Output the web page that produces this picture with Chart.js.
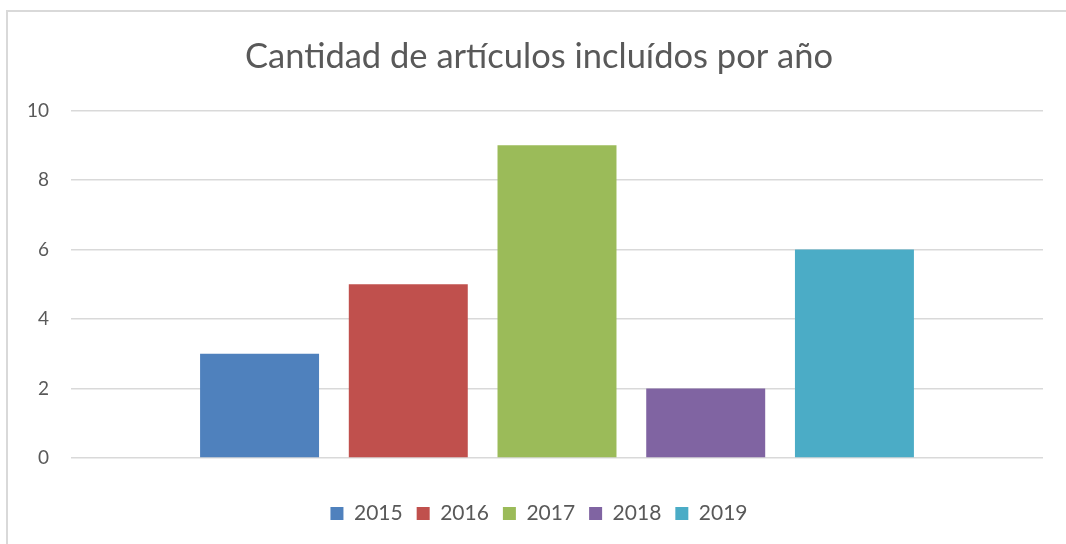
<!DOCTYPE html>
<html>
<head>
<meta charset="utf-8">
<script src="https://cdn.jsdelivr.net/npm/chart.js@4"></script>
<style>
    body { margin: 0; background: #fff; }
    #frame { position: absolute; left: 6px; top: 10px; width: 1100px; height: 600px; border: 2px solid #d9d9d9; }
    #wrap { position: absolute; left: 0; top: 0; width: 1066px; height: 544px; }
</style>
</head>
<body>
<div id="frame"></div>
<div id="wrap"><canvas id="chart"></canvas></div>
<script>
const categories = [''];
const years = ['2015', '2016', '2017', '2018', '2019'];
const counts = [3, 5, 9, 2, 6];
const colors = ['#4f81bd', '#c0504d', '#9bbb59', '#8064a2', '#4bacc6'];
const yTicks = [0, 2, 4, 6, 8, 10];

const datasets = years.map((y, i) => ({
    label: y,
    data: [counts[i]],
    backgroundColor: colors[i],
    categoryPercentage: 0.765,
    barPercentage: 0.80
}));

const ctx = document.getElementById('chart').getContext('2d');
new Chart(ctx, {
    type: 'bar',
    data: { labels: categories, datasets },
    options: {
        responsive: true,
        maintainAspectRatio: false,
        animation: false,
        layout: { padding: { left: 20, right: 8, top: 0, bottom: 10 } },
        plugins: {
            title: {
                display: true,
                text: 'Cantidad de artículos incluídos por año',
                color: '#595959',
                font: { family: 'Lato', size: 34.5, weight: 'normal' },
                padding: { top: 36, bottom: 33 }
            },
            legend: {
                position: 'bottom',
                labels: {
                    boxWidth: 13, boxHeight: 13, padding: 14,
                    color: '#595959',
                    font: { family: 'Lato', size: 21 }
                }
            },
            tooltip: { enabled: false }
        },
        scales: {
            x: {
                grid: { display: false },
                border: { display: false },
                ticks: { display: false },
                afterFit: s => { s.height = 31; }
            },
            y: {
                min: 0, max: 10,
                afterBuildTicks: s => { s.ticks = yTicks.map(v => ({ value: v })); },
                afterFit: s => { s.width = 51; },
                grid: { color: '#d9d9d9', lineWidth: 1.5, drawTicks: false },
                border: { display: false },
                ticks: { color: '#595959', font: { family: 'Lato', size: 19 }, padding: 22 }
            },
            yRight: {
                position: 'right',
                min: 0, max: 10,
                grid: { display: false },
                border: { display: false },
                ticks: { display: false },
                afterFit: s => { s.width = 15; }
            }
        }
    }
});
</script>
</body>
</html>
